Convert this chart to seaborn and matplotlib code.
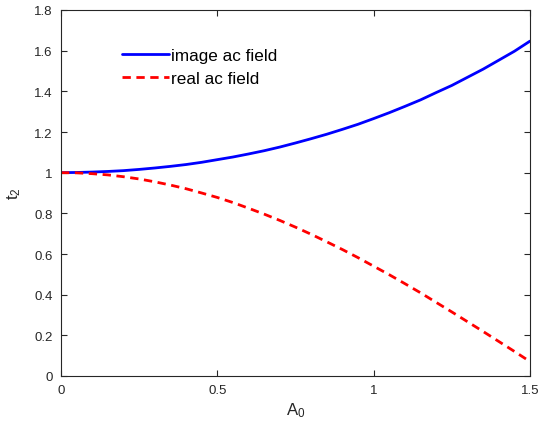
import numpy as np
import pandas as pd
import matplotlib
matplotlib.use("Agg")
import matplotlib.pyplot as plt
import seaborn as sns

# Data
A0 = [0.0, 0.05, 0.1, 0.15, 0.2, 0.25, 0.3, 0.35, 0.4, 0.45, 0.5, 0.55, 0.6, 0.65,
      0.7, 0.75, 0.8, 0.85, 0.9, 0.95, 1.0, 1.05, 1.1, 1.15, 1.2, 1.25, 1.3, 1.35,
      1.4, 1.45, 1.5]
image_ac = [1.000, 1.001, 1.003, 1.006, 1.010, 1.016, 1.023, 1.031, 1.040, 1.051,
            1.064, 1.077, 1.092, 1.108, 1.126, 1.146, 1.167, 1.189, 1.213, 1.238,
            1.266, 1.295, 1.326, 1.358, 1.394, 1.429, 1.469, 1.509, 1.553, 1.597,
            1.647]
real_ac = [1.000, 0.999, 0.995, 0.989, 0.980, 0.969, 0.955, 0.939, 0.921, 0.900,
           0.878, 0.853, 0.825, 0.796, 0.765, 0.732, 0.697, 0.660, 0.622, 0.582,
           0.540, 0.498, 0.454, 0.409, 0.362, 0.315, 0.267, 0.219, 0.170, 0.121,
           0.071]
labels = ["image ac field", "real ac field"]
xticks = [0, 0.5, 1, 1.5]
xticklabels = ["0", "0.5", "1", "1.5"]
yticks = [0, 0.2, 0.4, 0.6, 0.8, 1.0, 1.2, 1.4, 1.6, 1.8]
yticklabels = ["0", "0.2", "0.4", "0.6", "0.8", "1", "1.2", "1.4", "1.6", "1.8"]

df = pd.DataFrame({
    "A0": A0 * 2,
    "t2": image_ac + real_ac,
    "series": [labels[0]] * len(A0) + [labels[1]] * len(A0),
})

sns.set_theme(style="white")
plt.rcParams["font.family"] = ["Liberation Sans", "DejaVu Sans"]
plt.rcParams["mathtext.fontset"] = "custom"
plt.rcParams["mathtext.rm"] = "Liberation Sans"
plt.rcParams["mathtext.it"] = "Liberation Sans"

fig = plt.figure(figsize=(5.39, 4.31), dpi=100)
ax = fig.add_axes([61 / 539, 1 - 377 / 431, (530 - 61) / 539, (377 - 11) / 431])

sns.lineplot(data=df, x="A0", y="t2", hue="series", style="series",
             palette={labels[0]: "#0000FF", labels[1]: "#FF0000"},
             dashes={labels[0]: "", labels[1]: (3, 2)},
             linewidth=2.0, ax=ax, legend=True)

ax.set_xlim(0, 1.5)
ax.set_ylim(0, 1.8)
ax.set_xticks(xticks)
ax.set_xticklabels(xticklabels)
ax.set_yticks(yticks)
ax.set_yticklabels(yticklabels)

edge = "#262626"
for s in ax.spines.values():
    s.set_visible(True)
    s.set_color(edge)
    s.set_linewidth(0.8)
ax.tick_params(direction="in", length=4, width=0.8, color=edge, labelcolor=edge,
               labelsize=9.5, top=True, right=True, bottom=True, left=True, pad=6)

ax.set_xlabel(r"$\mathregular{A_0}$", fontsize=12, color=edge, labelpad=3)
ax.set_ylabel(r"$\mathregular{t_2}$", fontsize=12, color=edge, labelpad=8)

leg = ax.legend(loc="upper left", bbox_to_anchor=(0.115, 0.915), frameon=False,
                fontsize=12.3, handlelength=2.75, handletextpad=0.12, labelspacing=0.47,
                borderaxespad=0)
for t in leg.get_texts():
    t.set_color("black")

fig.savefig("out.png", dpi=100)
